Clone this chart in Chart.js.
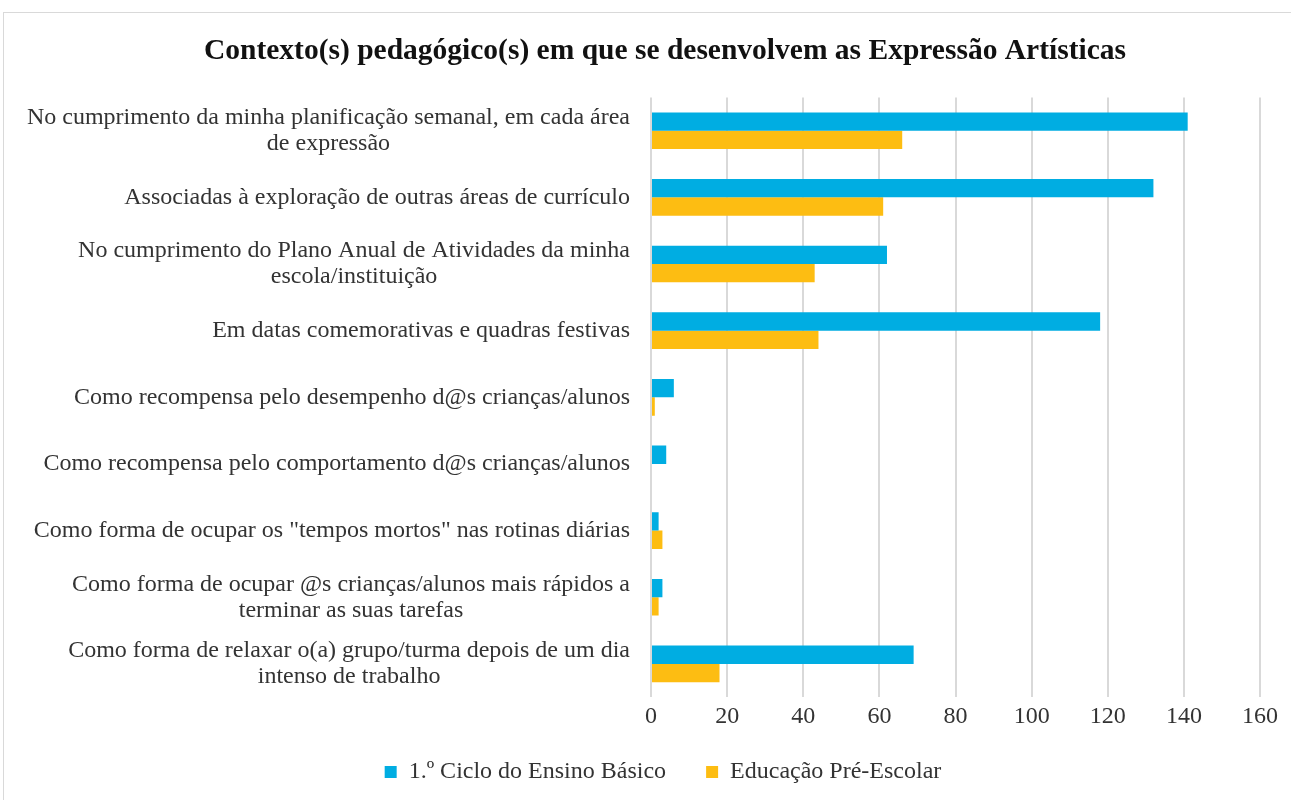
<!DOCTYPE html>
<html>
<head>
<meta charset="utf-8">
<script src="https://cdn.jsdelivr.net/npm/chart.js@4/dist/chart.umd.min.js"></script>
<style>
html,body{margin:0;padding:0;background:#fff;}
#box{position:absolute;left:3px;top:12px;width:1287px;height:787px;border:1px solid #d9d9d9;border-right:none;border-bottom:none;}
</style>
</head>
<body>
<div id="box"><canvas id="chart"></canvas></div>
<script>
// categories (multi-line labels as arrays)
const categories = [
['No cumprimento da minha planificação semanal, em cada área','de expressão'],
'Associadas à exploração de outras áreas de currículo',
['No cumprimento do Plano Anual de Atividades da minha','escola/instituição'],
'Em datas comemorativas e quadras festivas',
'Como recompensa pelo desempenho d@s crianças/alunos',
'Como recompensa pelo comportamento d@s crianças/alunos',
'Como forma de ocupar os "tempos mortos" nas rotinas diárias',
['Como forma de ocupar @s crianças/alunos mais rápidos a','terminar as suas tarefas'],
['Como forma de relaxar o(a) grupo/turma depois de um dia','intenso de trabalho']
];

const cicloBasico = [141,132,62,118,6,4,2,3,69];
const preEscolar = [66,61,43,44,1,0,3,2,18];

const seriesNames = ['1.º Ciclo do Ensino Básico','Educação Pré-Escolar'];
const xTicks = [0,20,40,60,80,100,120,140,160];

const font = 'Liberation Serif';
const textColor = '#333333';
const legendShift = 16;

// category labels: block right aligned, lines centred within the block
const yLabels = {
id:'yLabels',
beforeInit(chart){
// tighten the gap above the legend
const leg = chart.legend;
if(leg){
const fit = leg.fit;
leg.fit = function(){ fit.call(this); this.height -= legendShift; };
}
},
afterLayout(chart){
const leg = chart.legend;
if(leg){ leg.top -= legendShift; leg.left += 20; leg.right += 20; }
const t = chart.titleBlock;
if(t){ t.left += 22; t.right += 22; }
},
afterDraw(chart){
const s = chart.scales.y;
const ctx = chart.ctx;
ctx.save();
ctx.font = '24px "' + font + '"';
ctx.fillStyle = textColor;
ctx.textAlign = 'center';
ctx.textBaseline = 'middle';
const right = s.right - 21;
const lh = 26;
chart.data.labels.forEach((lab,i)=>{
const lines = [].concat(lab);
const w = Math.max(...lines.map(l=>ctx.measureText(l).width));
const y0 = s.getPixelForValue(i) - (lines.length-1)*lh/2;
lines.forEach((l,j)=>ctx.fillText(l, right - w/2, y0 + j*lh));
});
ctx.restore();
}
};

new Chart(document.getElementById('chart'),{
type:'bar',
data:{
labels:categories,
datasets:[{
label:seriesNames[0],
data:cicloBasico,
backgroundColor:'#00ADE2'
},{
label:seriesNames[1],
data:preEscolar,
backgroundColor:'#FDBD12'
}]
},
plugins:[yLabels],
options:{
indexAxis:'y',
responsive:true,
maintainAspectRatio:false,
animation:false,
categoryPercentage:0.55,
barPercentage:1,
layout:{padding:{left:22,right:31,top:0,bottom:6}},
plugins:{
title:{
display:true,
text:'Contexto(s) pedagógico(s) em que se desenvolvem as Expressão Artísticas',
font:{family:font,size:29.5,weight:'bold'},
color:'#111',
padding:{top:21,bottom:28}
},
legend:{
position:'bottom',
labels:{
font:{family:font,size:24},
color:textColor,
boxWidth:12,
boxHeight:12,
padding:40
}
},
tooltip:{enabled:false}
},
scales:{
x:{
min:xTicks[0],
max:xTicks[xTicks.length-1],
ticks:{stepSize:20,font:{family:font,size:24},color:textColor,padding:5},
grid:{color:'#d9d9d9',lineWidth:2,drawTicks:false},
border:{display:false}
},
y:{
ticks:{display:false},
afterFit(scale){ scale.width = 625; },
grid:{display:false},
border:{display:false}
}
}
}
});
</script>
</body>
</html>
